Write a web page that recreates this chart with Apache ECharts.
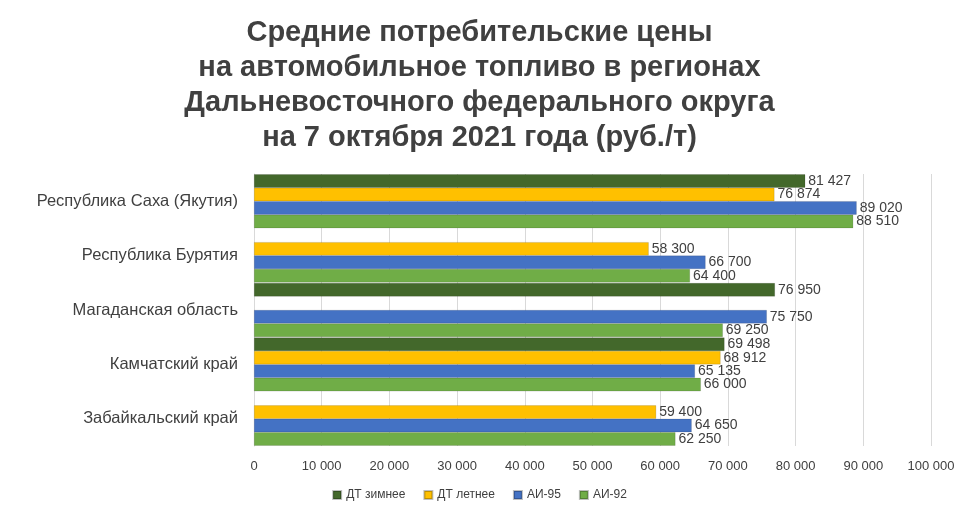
<!DOCTYPE html>
<html>
<head>
<meta charset="utf-8">
<script src="https://cdn.jsdelivr.net/npm/echarts@6/dist/echarts.min.js"></script>
<style>html,body{margin:0;padding:0;background:#fff}#chart{width:959px;height:518px}</style>
</head>
<body>
<div id="chart"></div>
<script>
var categories = ['Забайкальский край', 'Камчатский край', 'Магаданская область', 'Республика Бурятия', 'Республика Саха (Якутия)']
var dtWinter = [null, 69498, 76950, null, 81427]
var dtSummer = [59400, 68912, null, 58300, 76874]
var ai95 = [64650, 65135, 75750, 66700, 89020]
var ai92 = [62250, 66000, 69250, 64400, 88510]

function fmt(v) {
  return String(v).replace(/\B(?=(\d{3})+(?!\d))/g, ' ')
}

var myChart = echarts.init(document.getElementById('chart'))

function mk(name, data, color) {
  return {
    name: name,
    type: 'bar',
    data: data,
    barGap: '0%',
    barCategoryGap: '1%',
    itemStyle: { color: color, borderColor: 'rgba(0,0,0,0.25)', borderWidth: 0.5 },
    label: {
      show: true,
      position: 'right',
      distance: 3,
      color: '#404040',
      fontSize: 14,
      fontFamily: 'Liberation Sans',
      formatter: function(p) { return fmt(p.value) }
    }
  }
}

var option = {
  title: {
    text: 'Средние потребительские цены\nна автомобильное топливо в регионах\nДальневосточного федерального округа\nна 7 октября 2021 года (руб./т)',
    left: 'center',
    top: 10,
    textStyle: { fontFamily: 'Liberation Sans', fontWeight: 'bold', fontSize: 29, lineHeight: 35, color: '#404040' }
  },
  legend: {
    bottom: 12,
    left: 'center',
    icon: 'rect',
    itemWidth: 8,
    itemHeight: 8,
    itemGap: 18,
    textStyle: { fontFamily: 'Liberation Sans', fontSize: 12, color: '#404040' },
    data: ['ДТ зимнее', 'ДТ летнее', 'АИ-95', 'АИ-92']
  },
  grid: { left: 254, right: 28, top: 174, bottom: 72 },
  xAxis: {
    type: 'value',
    min: 0,
    max: 100000,
    interval: 10000,
    axisLabel: { color: '#404040', fontSize: 13, fontFamily: 'Liberation Sans', margin: 14, formatter: fmt },
    splitLine: { lineStyle: { color: '#d9d9d9' } },
    axisLine: { show: false },
    axisTick: { show: false }
  },
  yAxis: {
    type: 'category',
    data: categories,
    axisLabel: { color: '#404040', fontSize: 16.5, fontFamily: 'Liberation Sans', margin: 16 },
    axisLine: { lineStyle: { color: '#d9d9d9' } },
    axisTick: { show: false }
  },
  series: [
    mk('ДТ зимнее', dtWinter, '#43682b'),
    mk('ДТ летнее', dtSummer, '#ffc000'),
    mk('АИ-95', ai95, '#4472c4'),
    mk('АИ-92', ai92, '#70ad47')
  ]
}
myChart.setOption(option)
</script>
</body>
</html>
